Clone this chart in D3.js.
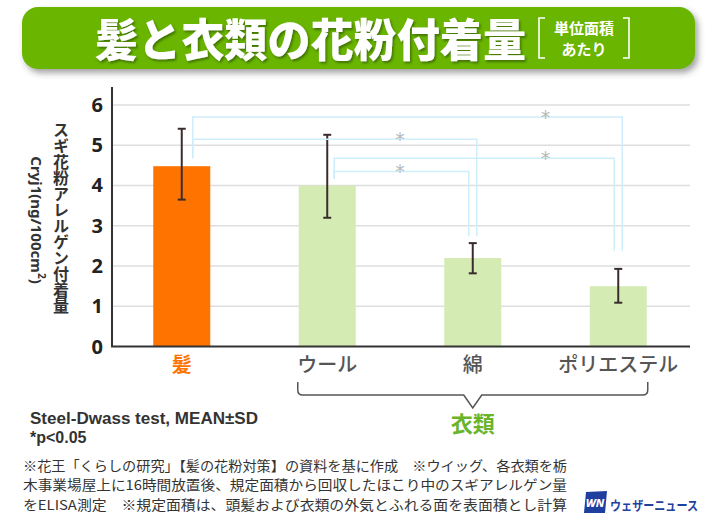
<!DOCTYPE html>
<html><head><meta charset="utf-8">
<script src="https://cdn.jsdelivr.net/npm/d3@7/dist/d3.min.js"></script>
<style>
html,body{margin:0;padding:0;background:#fff;}
svg{display:block;font-family:"Noto Sans CJK JP","Noto Sans",sans-serif;}
</style></head>
<body>
<svg id="chart" width="720" height="528"></svg>
<script>
// ---- data ----
const categories = ["髪", "ウール", "綿", "ポリエステル"];
const means = [4.48, 4.0, 2.2, 1.5];
const errTop = [5.41, 5.26, 2.57, 1.93];
const errBottom = [3.65, 3.20, 1.82, 1.09];
const yTicks = [0, 1, 2, 3, 4, 5, 6];
const sigPairs = [[0, 3], [0, 2], [1, 3], [1, 2]];
const sigLevels = [5.70, 5.15, 4.68, 4.35];
const sigLeftDrop = [4.68, 4.68, 4.16, 4.16];
const sigRightDrop = [2.38, 2.74, 2.38, 2.74];
const sigMarks = ["*", "*", "*", "*"];
const titleText = "髪と衣類の花粉付着量";
const unitLines = ["単位面積", "あたり"];
const yTitleJa = "スギ花粉アレルゲン付着量";
const groupLabel = "衣類";
const statNotes = ["Steel-Dwass test, MEAN±SD", "*p<0.05"];
const footnotes = [
  "※花王「くらしの研究」【髪の花粉対策】の資料を基に作成　※ウイッグ、各衣類を栃",
  "木事業場屋上に16時間放置後、規定面積から回収したほこり中のスギアレルゲン量",
  "をELISA測定　※規定面積は、頭髪および衣類の外気とふれる面を表面積とし計算"
];
const brand = "ウェザーニュース";

// ---- layout ----
const svg = d3.select("#chart");
const axisX = 112;
const x = d3.scalePoint().domain(categories).range([109, 691]).padding(0.5);
const y = d3.scaleLinear().domain([0, 6]).range([346.6, 105]);
const barW = 57;
const JA = '"Noto Sans CJK JP", sans-serif';
const LAT = '"Noto Sans", sans-serif';

// defs
const defs = svg.append("defs");
const f = defs.append("filter").attr("id", "bannerShadow").attr("x", "-5%").attr("y", "-20%").attr("width", "115%").attr("height", "160%");
f.append("feDropShadow").attr("dx", 3).attr("dy", 4).attr("stdDeviation", 3).attr("flood-color", "#333").attr("flood-opacity", 0.45);
const tf = defs.append("filter").attr("id", "titleShadow").attr("x", "-5%").attr("y", "-20%").attr("width", "115%").attr("height", "160%");
tf.append("feDropShadow").attr("dx", 1.5).attr("dy", 2).attr("stdDeviation", 1.2).attr("flood-color", "#2d5a00").attr("flood-opacity", 0.7);

// ---- banner ----
svg.append("rect").attr("x", 22).attr("y", 7).attr("width", 673).attr("height", 62)
  .attr("rx", 16).attr("fill", "#6ab505").attr("filter", "url(#bannerShadow)");
svg.append("text").attr("x", 95).attr("y", 57).attr("fill", "#fff")
  .style("font-family", JA).attr("font-size", 45).attr("font-weight", 900)
  .attr("textLength", 431).attr("lengthAdjust", "spacingAndGlyphs")
  .attr("filter", "url(#titleShadow)").text(titleText);
svg.append("path").attr("d", "M545,18 H539 V58 H545 M623,18 H629 V58 H623")
  .attr("fill", "none").attr("stroke", "#fff").attr("stroke-width", 1.6);
unitLines.forEach((t, i) => {
  svg.append("text").attr("x", 584).attr("y", 33.5 + i * 21.8).attr("text-anchor", "middle")
    .style("font-family", JA).attr("fill", "#fff").attr("font-size", 15).attr("font-weight", 700).text(t);
});

// ---- grid ----
svg.append("g").selectAll("line").data(yTicks.filter(d => d > 0)).join("line")
  .attr("x1", axisX).attr("x2", 690).attr("y1", d => y(d)).attr("y2", d => y(d))
  .attr("stroke", "#dedede").attr("stroke-width", 1.5);

// ---- bars ----
svg.append("g").selectAll("rect").data(categories).join("rect")
  .attr("x", d => x(d) - barW / 2).attr("width", barW)
  .attr("y", (d, i) => y(means[i])).attr("height", (d, i) => y(0) - y(means[i]))
  .attr("fill", (d, i) => i === 0 ? "#ff7300" : "#d4ebb4");

// ---- error bars ----
const eb = svg.append("g").attr("stroke", "#3a2c2c").attr("stroke-width", 2);
categories.forEach((c, i) => {
  const cx = x(c), top = y(errTop[i]), bot = y(errBottom[i]);
  eb.append("line").attr("x1", cx).attr("x2", cx).attr("y1", top).attr("y2", bot);
  eb.append("line").attr("x1", cx - 4).attr("x2", cx + 4).attr("y1", top).attr("y2", top);
  eb.append("line").attr("x1", cx - 4).attr("x2", cx + 4).attr("y1", bot).attr("y2", bot);
});

// ---- significance brackets ----
const sg = svg.append("g");
sigPairs.forEach(([a, b], i) => {
  const lx = x(categories[a]) + (a === 0 ? 11 : 7);
  const rx = x(categories[b]) + (a === 0 ? 4 : -4);
  const ly = y(sigLevels[i]);
  sg.append("path")
    .attr("d", `M${lx},${y(sigLeftDrop[i])} V${ly} H${rx} V${y(sigRightDrop[i])}`)
    .attr("fill", "none").attr("stroke", "#cdeefa").attr("stroke-width", 1.5);
  const sx = (x(categories[b - 1]) + x(categories[b])) / 2;
  sg.append("text").attr("x", sx).attr("y", ly + 7).attr("text-anchor", "middle")
    .attr("fill", "#b8b8b8").attr("font-size", 19).style("font-family", '"DejaVu Sans", sans-serif')
    .text(sigMarks[i]);
});

// ---- axes ----
svg.append("line").attr("x1", axisX).attr("x2", axisX).attr("y1", y(6.45)).attr("y2", y(0))
  .attr("stroke", "#333").attr("stroke-width", 2);
svg.append("line").attr("x1", axisX - 1).attr("x2", 690).attr("y1", y(0)).attr("y2", y(0))
  .attr("stroke", "#333").attr("stroke-width", 2);
const ya = svg.append("g").attr("transform", `translate(${axisX},0)`)
  .call(d3.axisLeft(y).tickValues(yTicks).tickSize(0).tickPadding(9).tickFormat(d3.format("d")));
ya.select(".domain").remove();
ya.selectAll("text").attr("font-size", 20).attr("font-weight", 700).attr("fill", "#222")
  .style("font-family", LAT);

// ---- category labels ----
svg.append("g").selectAll("text").data(categories).join("text")
  .attr("x", d => x(d)).attr("y", 372).attr("text-anchor", "middle")
  .style("font-family", JA)
  .attr("font-size", 20).attr("font-weight", (d, i) => i === 0 ? 700 : 500)
  .attr("fill", (d, i) => i === 0 ? "#ff7300" : "#555").text(d => d);

// ---- brace for clothing ----
const bl = x(categories[1]) - barW / 2 - 1, br = x(categories[3]) + barW / 2 + 1;
const bm = (bl + br) / 2;
svg.append("path")
  .attr("d", `M${bl},382 V390 Q${bl},395 ${bl + 5},395 H${bm - 9} L${bm},408 L${bm + 9},395 H${br - 5} Q${br},395 ${br},390 V382`)
  .attr("fill", "none").attr("stroke", "#555").attr("stroke-width", 1.5);
svg.append("text").attr("x", bm).attr("y", 432).attr("text-anchor", "middle")
  .style("font-family", JA)
  .attr("font-size", 22).attr("font-weight", 700).attr("fill", "#6ab42a").text(groupLabel);

// ---- y title ----
svg.append("text").attr("x", 61).attr("y", 218)
  .attr("text-anchor", "middle")
  .style("font-family", JA)
  .style("writing-mode", "vertical-rl").style("text-orientation", "upright")
  .attr("font-size", 16).attr("font-weight", 700).attr("fill", "#333").text(yTitleJa);
const yt2 = svg.append("text").attr("transform", "translate(37,220) rotate(90)")
  .attr("text-anchor", "middle").attr("dominant-baseline", "central")
  .attr("font-size", 15).attr("font-weight", 700).attr("fill", "#333")
  .style("font-family", LAT);
yt2.append("tspan").text("Cryj1(ng/100cm");
yt2.append("tspan").attr("dy", -5).attr("font-size", 10).text("2");
yt2.append("tspan").attr("dy", 5).text(")");

// ---- stat notes ----
statNotes.forEach((t, i) => {
  const el = svg.append("text").attr("x", 30).attr("y", 424 + i * 18.6)
    .attr("font-size", 16).attr("font-weight", 700).attr("fill", "#333")
    .style("font-family", '"Liberation Sans", Arial, sans-serif').text(t);
  if (i === 0) el.attr("textLength", 228).attr("lengthAdjust", "spacingAndGlyphs");
});

// ---- footnotes ----
footnotes.forEach((t, i) => {
  svg.append("text").attr("x", 23).attr("y", 471 + i * 19.4)
    .style("font-family", JA).attr("font-size", 13.4).attr("fill", "#333")
    .attr("textLength", 544).attr("lengthAdjust", "spacingAndGlyphs").text(t);
});

// ---- brand ----
svg.append("path").attr("d", "M586,492 L607,491 L605,513 L584,513 Z").attr("fill", "#1f3f9f");
svg.append("text").attr("x", 595).attr("y", 507).attr("text-anchor", "middle")
  .attr("font-size", 11).attr("font-weight", 800).attr("font-style", "italic")
  .attr("fill", "#fff").style("font-family", LAT).text("WN");
svg.append("text").attr("x", 610).attr("y", 510).attr("font-size", 13).attr("font-weight", 700)
  .style("font-family", JA)
  .attr("fill", "#1f3f9f").attr("textLength", 88).attr("lengthAdjust", "spacingAndGlyphs").text(brand);
</script>
</body></html>
